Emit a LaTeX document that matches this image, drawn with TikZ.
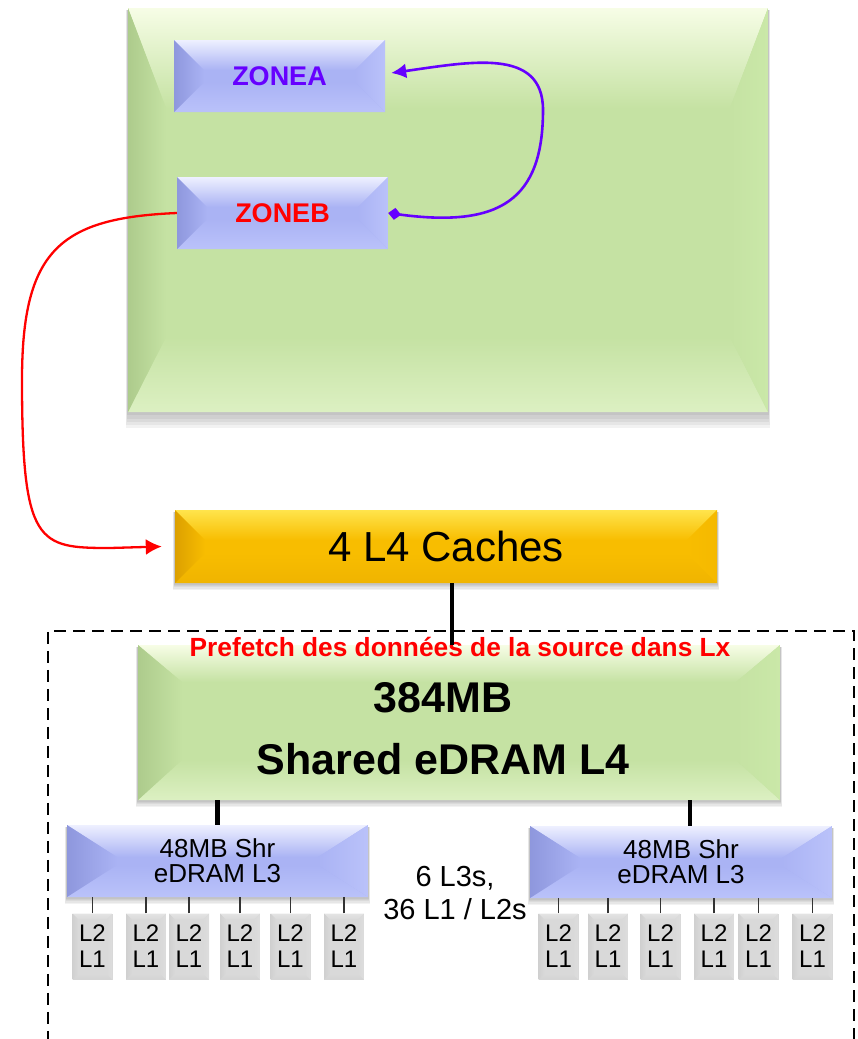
\documentclass[tikz,border=0pt]{standalone}
\usepackage{fontspec}
\setmainfont{Liberation Sans}
\usetikzlibrary{arrows.meta}
\pgfdeclarelayer{background}
\pgfsetlayers{background,main}

% palette
\definecolor{grbase}{HTML}{C5E2A3}
\definecolor{grtop}{HTML}{F7FDE6}
\definecolor{grleft}{HTML}{ADCB8C}
\definecolor{grright}{HTML}{CAE8A8}
\definecolor{grbot}{HTML}{DCF0C2}
\definecolor{blbase}{HTML}{AAB3F4}
\definecolor{bltop}{HTML}{EEF0FF}
\definecolor{blleft}{HTML}{8E97DD}
\definecolor{blright}{HTML}{BAC2FA}
\definecolor{blbot}{HTML}{BAC2FA}
\definecolor{gdbase}{HTML}{F8BD00}
\definecolor{gdtop}{HTML}{FFE44C}
\definecolor{gdleft}{HTML}{DCA000}
\definecolor{gdright}{HTML}{F5B900}
\definecolor{gdbot}{HTML}{F0B400}
\definecolor{lgbase}{HTML}{D9D9D9}
\definecolor{lgtop}{HTML}{E4E4E4}
\definecolor{lgleft}{HTML}{D0D0D0}
\definecolor{lgright}{HTML}{DDDDDD}
\definecolor{lgbot}{HTML}{D3D3D3}
\definecolor{zonepurple}{HTML}{6600FF}
\definecolor{zonered}{HTML}{FF0000}

\tikzset{
  % bevelled block: base, top, left, right, bottom colours, side depth, top depth, bottom depth
  bevel/.style n args={8}{
    rectangle, inner sep=0pt, fill=#1,
    path picture={
      \coordinate (bvNW) at (path picture bounding box.north west);
      \coordinate (bvNE) at (path picture bounding box.north east);
      \coordinate (bvSW) at (path picture bounding box.south west);
      \coordinate (bvSE) at (path picture bounding box.south east);
      \coordinate (bvnw) at ([shift={(#6pt,-#7pt)}]bvNW);
      \coordinate (bvne) at ([shift={(-#6pt,-#7pt)}]bvNE);
      \coordinate (bvsw) at ([shift={(#6pt,#8pt)}]bvSW);
      \coordinate (bvse) at ([shift={(-#6pt,#8pt)}]bvSE);
      \shade[top color=#2, bottom color=#1] (bvNW) -- (bvNE) -- (bvne) -- (bvnw) -- cycle;
      \shade[top color=#1, bottom color=#5] (bvsw) -- (bvse) -- (bvSE) -- (bvSW) -- cycle;
      \shade[left color=#3, right color=#1] (bvNW) -- (bvnw) -- (bvsw) -- (bvSW) -- cycle;
      \shade[left color=#1, right color=#4] (bvNE) -- (bvne) -- (bvse) -- (bvSE) -- cycle;
    }
  },
  greenblock/.style n args={3}{bevel={grbase}{grtop}{grleft}{grright}{grbot}{#1}{#2}{#3}},
  blueblock/.style n args={3}{bevel={blbase}{bltop}{blleft}{blright}{blbot}{#1}{#2}{#3}},
  goldblock/.style n args={3}{bevel={gdbase}{gdtop}{gdleft}{gdright}{gdbot}{#1}{#2}{#3}},
  coreblock/.style={bevel={lgbase}{lgtop}{lgleft}{lgright}{lgbot}{6}{6}{6},
    minimum width=40pt, minimum height=66pt, align=center,
    font=\fontsize{24}{26}\selectfont},
  zonelabel/.style={font=\fontsize{27}{30}\selectfont\bfseries},
  l3label/.style={align=center, font=\fontsize{26}{25}\selectfont},
  busline/.style={line width=4.5pt, black},
  tick/.style={line width=1.3pt, black!80},
}

% soft shadow under a block
\newcommand\blockshade[2]{%
  \begin{pgfonlayer}{background}
    \foreach \s in {1.0,0.8,0.6,0.4,0.2}
      \fill[black,opacity=.05] ([shift={(-\s*2pt,-2pt)}]#1.north west) rectangle ([shift={(\s*2pt,-\s*#2pt)}]#1.south east);
  \end{pgfonlayer}}

\begin{document}
\begin{tikzpicture}[x=1pt, y=-1pt]
\useasboundingbox (0,0) rectangle (857,1039);

% upper host area with its two zones
\node[greenblock={38}{100}{75}, minimum width=640pt, minimum height=404pt] (host) at (448,210) {};
\node[blueblock={30}{30}{30}, minimum width=211pt, minimum height=72pt, zonelabel, text=zonepurple] (zonea) at (279.5,76) {ZONEA};
\node[blueblock={30}{30}{30}, minimum width=211pt, minimum height=72pt, zonelabel, text=zonered] (zoneb) at (282.5,213) {ZONEB};
\blockshade{host}{16}
\blockshade{zonea}{7}
\blockshade{zoneb}{7}

% L4 cache entry
\node[goldblock={30}{30}{30}, minimum width=542pt, minimum height=73pt, font=\fontsize{42}{50}\selectfont] (caches) at (446,546.5) {4 L4 Caches};
\blockshade{caches}{7}

% processor drawer frame
\node[draw, dashed, dash pattern=on 12pt off 7pt, line width=1.6pt, rectangle, inner sep=0pt,
      minimum width=806pt, minimum height=420pt, anchor=north west] (drawer) at (47,630) {};

\node[greenblock={44}{37}{40}, minimum width=642pt, minimum height=155pt,
      font=\fontsize{43}{62}\selectfont\bfseries] (shared) at (459,722.5)
  {\raisebox{-9pt}[\height][\depth]{\begin{tabular}{@{}c@{}}384MB\\Shared eDRAM L4\end{tabular}}\hspace*{32pt}};
\blockshade{shared}{7}

\node[text=zonered, font=\fontsize{26.3}{30}\selectfont\bfseries] (prefetch) at (460,647) {Prefetch des données de la source dans Lx};

\node[blueblock={50}{32}{32}, minimum width=301pt, minimum height=72pt, l3label] (l3a) at (217.5,861) {48MB Shr\\eDRAM L3};
\node[blueblock={50}{32}{32}, minimum width=302pt, minimum height=72pt, l3label] (l3b) at (681,862) {48MB Shr\\eDRAM L3};
\blockshade{l3a}{7}
\blockshade{l3b}{7}

\node[align=center, font=\fontsize{29}{33}\selectfont] (count) at (455,893) {6 L3s,\\36 L1 / L2s};

% cores below each L3
\foreach \n/\x in {a1/92.5, a2/146, a3/189, a4/240, a5/290.5, a6/344}
  \node[coreblock] (c\n) at (\x,946.5) {L2\\L1};
\foreach \n/\x in {b1/558.5, b2/608, b3/660.5, b4/714, b5/758.5, b6/812.5}
  \node[coreblock] (c\n) at (\x,946.5) {L2\\L1};

\foreach \n in {a1,a2,a3,a4,a5,a6}
  \draw[tick] (c\n.north) -- (c\n.north |- l3a.south);
\foreach \n in {b1,b2,b3,b4,b5,b6}
  \draw[tick] (c\n.north) -- (c\n.north |- l3b.south);

% buses
\draw[busline] ([xshift=6pt]caches.south) -- ([xshift=6pt]caches.south |- shared.north);
\draw[busline] (l3a.north) -- (l3a.north |- shared.south);
\draw[busline] ([xshift=9pt]l3b.north) -- ([xshift=9pt]l3b.north |- shared.south);

% zone exchange and prefetch paths
\draw[zonepurple, line width=2.6pt, {Diamond[length=13pt,width=12pt]}-{Latex[length=15pt,width=15pt]}]
  (zoneb.east) .. controls (500,228) and (543,200) .. (543,110)
  .. controls (543,47) and (470,62) .. ([shift={(6pt,3pt)}]zonea.east);
\draw[zonered, line width=2.3pt, -{Latex[length=16pt,width=16pt]}]
  (zoneb.west) .. controls (60,218) and (22,250) .. (22,380)
  .. controls (22,545) and (38,548) .. (110,548) -- ([xshift=-13pt]caches.west);
\end{tikzpicture}
\end{document}
